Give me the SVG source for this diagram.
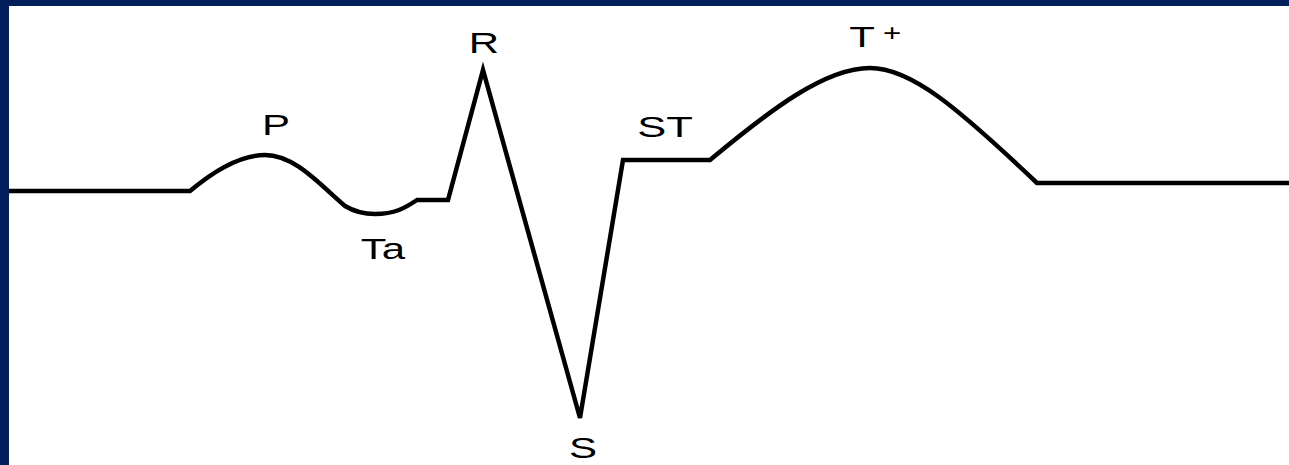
<svg xmlns="http://www.w3.org/2000/svg" width="1289" height="465" viewBox="0 0 1289 465">
<style>
.lbl{font-family:"Liberation Sans",Arial,sans-serif;font-size:30px;fill:#000;text-anchor:middle}
.wave{fill:none;stroke:#000;stroke-width:4.5;stroke-linejoin:miter;stroke-linecap:butt}
</style>
<rect x="0" y="0" width="1289" height="465" fill="#fff"/>
<rect x="0" y="0" width="1289" height="6" fill="#001F5B"/>
<rect x="0" y="0" width="9" height="465" fill="#001F5B"/>
<g id="connectors">
<path class="wave" d="M9,191 L190,191 C215,170 240,155 265,155 C295,155 320,185 345,206 C355,212 365,214 375,214 C395,214 405,208 417,200 L448,200 L483,70 L580,418 L623,160 L710,160 C770,110 825,68 870,68 C910,68 955,105 1037,183 L1289,183"/>
</g>
<g id="P"><text class="lbl" transform="translate(276,135) scale(1.4,1)">P</text></g>
<g id="Ta"><text class="lbl" transform="translate(383,259) scale(1.4,1)">Ta</text></g>
<g id="R"><text class="lbl" transform="translate(484,53) scale(1.4,1)">R</text></g>
<g id="ST"><text class="lbl" transform="translate(665,137) scale(1.45,1)">ST</text></g>
<g id="S"><text class="lbl" transform="translate(583,458) scale(1.4,1)">S</text></g>
<g id="T"><text class="lbl" transform="translate(862,47) scale(1.4,1)">T</text><text class="lbl" transform="translate(892,41) scale(1.3,1)" style="font-size:24px">+</text></g>
</svg>
